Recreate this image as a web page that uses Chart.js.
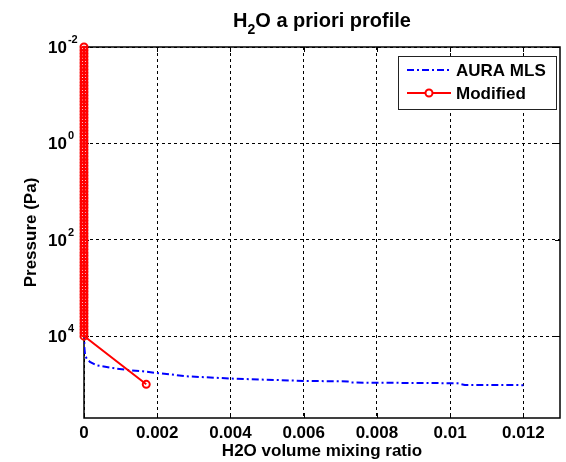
<!DOCTYPE html>
<html>
<head>
<meta charset="utf-8">
<title>H2O a priori profile</title>
<script src="https://cdn.jsdelivr.net/npm/chart.js@4.4.1/dist/chart.umd.min.js"></script>
<style>
  html, body { margin: 0; padding: 0; background: #fff; }
  #wrap { width: 566px; height: 462px; position: relative; }
</style>
</head>
<body>
<div id="wrap"><canvas id="profileChart"></canvas></div>
<script>
// texts and ticks
const titleParts = ['H', '2', 'O a priori profile'];
const xAxisTitle = 'H2O volume mixing ratio';
const yAxisTitle = 'Pressure (Pa)';
const xTickValues = [0, 0.002, 0.004, 0.006, 0.008, 0.01, 0.012];
const xTickLabels = ['0', '0.002', '0.004', '0.006', '0.008', '0.01', '0.012'];
const yTickValues = [0.01, 1, 100, 10000];
const yTickBase = '10';
const yTickExponents = ['-2', '0', '2', '4'];
const xLimits = [0, 0.013];
const yLimits = [0.01, 500000];

// AURA MLS profile (pressure in Pa, vmr)
const auraLabel = 'AURA MLS';
const auraPressure = [0.01, 0.1, 1, 10, 100, 1000, 5000, 10000, 17000, 24900, 29200, 34300,
  40200, 43600, 47100, 51100, 53600, 58200, 61700, 68100, 76000, 85000, 87000, 92000,
  95000, 103000, 104000];
const auraVmr = [0.000005, 0.0000055, 0.000006, 0.000006, 0.000005, 0.000004, 0.000004, 0.000005, 0.00001, 0.00003, 0.000073, 0.000163,
  0.000345, 0.000616, 0.000887, 0.00125, 0.00161, 0.00197, 0.00233, 0.00279, 0.004, 0.006, 0.0072, 0.0073,
  0.0102, 0.0104, 0.012];

// Modified profile
const modLabel = 'Modified';
const modPressure = [
  0.01, 0.0117, 0.0136, 0.0158, 0.0185, 0.0215, 0.0251, 0.0293, 0.0341, 0.0398, 0.0464, 0.0541, 0.0631, 0.0736, 0.0858,
  0.1, 0.117, 0.136, 0.158, 0.185, 0.215, 0.251, 0.293, 0.341, 0.398, 0.464, 0.541, 0.631, 0.736, 0.858,
  1, 1.17, 1.36, 1.58, 1.85, 2.15, 2.51, 2.93, 3.41, 3.98, 4.64, 5.41, 6.31, 7.36, 8.58,
  10, 11.7, 13.6, 15.8, 18.5, 21.5, 25.1, 29.3, 34.1, 39.8, 46.4, 54.1, 63.1, 73.6, 85.8,
  100, 117, 136, 158, 185, 215, 251, 293, 341, 398, 464, 541, 631, 736, 858,
  1000, 1170, 1360, 1580, 1850, 2150, 2510, 2930, 3410, 3980, 4640, 5410, 6310, 7360, 8580,
  10000, 100000];
const modVmr = [
  0, 0, 0, 0, 0, 0, 0, 0, 0, 0, 0, 0, 0, 0, 0,
  0, 0, 0, 0, 0, 0, 0, 0, 0, 0, 0, 0, 0, 0, 0,
  0, 0, 0, 0, 0, 0, 0, 0, 0, 0, 0, 0, 0, 0, 0,
  0, 0, 0, 0, 0, 0, 0, 0, 0, 0, 0, 0, 0, 0, 0,
  0, 0, 0, 0, 0, 0, 0, 0, 0, 0, 0, 0, 0, 0, 0,
  0, 0, 0, 0, 0, 0, 0, 0, 0, 0, 0, 0, 0, 0, 0,
  0, 0.0017];

const FONT = '"Liberation Sans", Arial, sans-serif';

function toPoints(xs, ys) {
  return xs.map((x, i) => ({ x: x, y: ys[i] }));
}

// box, inner ticks, title, y labels and legend (matlab look)
const matlabFrame = {
  id: 'matlabFrame',
  beforeDatasetsDraw(chart) {
    const ctx = chart.ctx, a = chart.chartArea;
    const xs = chart.scales.x, ys = chart.scales.y;
    ctx.save();
    ctx.strokeStyle = '#000';
    ctx.lineWidth = 1;
    ctx.beginPath();
    xTickValues.forEach(v => {
      const px = Math.round(xs.getPixelForValue(v)) + 0.5;
      ctx.moveTo(px, a.top); ctx.lineTo(px, a.top + 5);
      ctx.moveTo(px, a.bottom); ctx.lineTo(px, a.bottom - 5);
    });
    yTickValues.forEach(v => {
      const py = Math.round(ys.getPixelForValue(v)) + 0.5;
      ctx.moveTo(a.left, py); ctx.lineTo(a.left + 5, py);
      ctx.moveTo(a.right, py); ctx.lineTo(a.right - 5, py);
    });
    ctx.stroke();
    ctx.lineWidth = 1.5;
    ctx.strokeRect(Math.round(a.left), Math.round(a.top), Math.round(a.right - a.left), Math.round(a.bottom - a.top));
    ctx.restore();
  },
  afterDraw(chart) {
    const ctx = chart.ctx, a = chart.chartArea;
    const ys = chart.scales.y;
    ctx.save();
    ctx.fillStyle = '#000';
    ctx.textBaseline = 'alphabetic';

    // title with subscript
    ctx.font = 'bold 20px ' + FONT;
    const w0 = ctx.measureText(titleParts[0]).width;
    const w2 = ctx.measureText(titleParts[2]).width;
    ctx.font = 'bold 14px ' + FONT;
    const w1 = ctx.measureText(titleParts[1]).width;
    let tx = (a.left + a.right) / 2 - (w0 + w1 + w2) / 2;
    ctx.font = 'bold 20px ' + FONT;
    ctx.fillText(titleParts[0], tx, 27);
    ctx.font = 'bold 14px ' + FONT;
    ctx.fillText(titleParts[1], tx + w0, 34);
    ctx.font = 'bold 20px ' + FONT;
    ctx.fillText(titleParts[2], tx + w0 + w1, 27);

    // y tick labels 10^n
    yTickValues.forEach((v, i) => {
      const py = ys.getPixelForValue(v);
      ctx.font = 'bold 17px ' + FONT;
      ctx.fillText(yTickBase, 48, py + 6);
      const wb = ctx.measureText(yTickBase).width;
      ctx.font = 'bold 11px ' + FONT;
      ctx.fillText(yTickExponents[i], 48 + wb + 1, py - 4);
    });

    // legend
    const w = 158, h = 53;
    const x0 = Math.round(a.right - 4 - w), y0 = Math.round(a.top + 9);
    ctx.fillStyle = '#fff';
    ctx.fillRect(x0, y0, w, h);
    ctx.strokeStyle = '#222';
    ctx.lineWidth = 1;
    ctx.strokeRect(x0 + 0.5, y0 + 0.5, w, h);
    chart.data.datasets.forEach((ds, i) => {
      const cy = y0 + 14 + i * 23;
      ctx.strokeStyle = ds.borderColor;
      ctx.lineWidth = ds.borderWidth;
      ctx.setLineDash(ds.borderDash || []);
      ctx.beginPath();
      ctx.moveTo(x0 + 9, cy); ctx.lineTo(x0 + 53, cy);
      ctx.stroke();
      ctx.setLineDash([]);
      if (ds.pointRadius > 0) {
        ctx.lineWidth = ds.pointBorderWidth;
        ctx.strokeStyle = ds.pointBorderColor;
        ctx.beginPath();
        ctx.arc(x0 + 31, cy, ds.pointRadius, 0, Math.PI * 2);
        ctx.fillStyle = '#fff';
        ctx.fill();
        ctx.stroke();
      }
      ctx.fillStyle = '#000';
      ctx.font = 'bold 17px ' + FONT;
      ctx.textBaseline = 'middle';
      ctx.fillText(ds.label, x0 + 58, cy + 1);
      ctx.textBaseline = 'alphabetic';
    });
    ctx.restore();
  }
};

const ctx = document.getElementById('profileChart').getContext('2d');
new Chart(ctx, {
  type: 'scatter',
  data: {
    datasets: [{
      label: auraLabel,
      data: toPoints(auraVmr, auraPressure),
      showLine: true,
      borderColor: '#0000ff',
      borderWidth: 2,
      borderDash: [7, 3, 2, 3],
      pointRadius: 0,
      order: 1
    }, {
      label: modLabel,
      data: toPoints(modVmr, modPressure),
      showLine: true,
      borderColor: '#ff0000',
      borderWidth: 2,
      pointRadius: 3.5,
      pointBorderWidth: 2,
      pointBorderColor: '#ff0000',
      pointBackgroundColor: 'rgba(0,0,0,0)',
      clip: false,
      order: 0
    }]
  },
  options: {
    responsive: true,
    maintainAspectRatio: false,
    devicePixelRatio: 1,
    animation: false,
    layout: { padding: { top: 47, right: 5, left: 0, bottom: 0 } },
    plugins: {
      legend: { display: false },
      tooltip: { enabled: false },
      title: { display: false }
    },
    scales: {
      x: {
        type: 'linear',
        position: 'bottom',
        min: xLimits[0],
        max: xLimits[1],
        afterBuildTicks: s => { s.ticks = xTickValues.map(v => ({ value: v })); },
        afterFit: s => { s.height = 44; },
        ticks: {
          color: '#000',
          padding: 5,
          maxRotation: 0,
          autoSkip: false,
          font: { family: FONT, size: 17, weight: 'bold' },
          callback: (v, i) => xTickLabels[i]
        },
        grid: { color: '#000', lineWidth: 1, drawTicks: false, borderDash: [3, 3] },
        border: { display: false, dash: [3, 3] },
        title: {
          display: true,
          text: xAxisTitle,
          color: '#000',
          padding: { top: 0, bottom: 0 },
          font: { family: FONT, size: 17, weight: 'bold' }
        }
      },
      y: {
        type: 'logarithmic',
        position: 'left',
        reverse: true,
        min: yLimits[0],
        max: yLimits[1],
        afterBuildTicks: s => { s.ticks = yTickValues.map(v => ({ value: v })); },
        afterFit: s => { s.width = 84; },
        ticks: { display: false },
        grid: { color: '#000', lineWidth: 1, drawTicks: false, borderDash: [3, 3] },
        border: { display: false, dash: [3, 3] },
        title: {
          display: true,
          text: yAxisTitle,
          color: '#000',
          padding: { top: 21, bottom: 0 },
          font: { family: FONT, size: 17, weight: 'bold' }
        }
      }
    }
  },
  plugins: [matlabFrame]
});
</script>
</body>
</html>
